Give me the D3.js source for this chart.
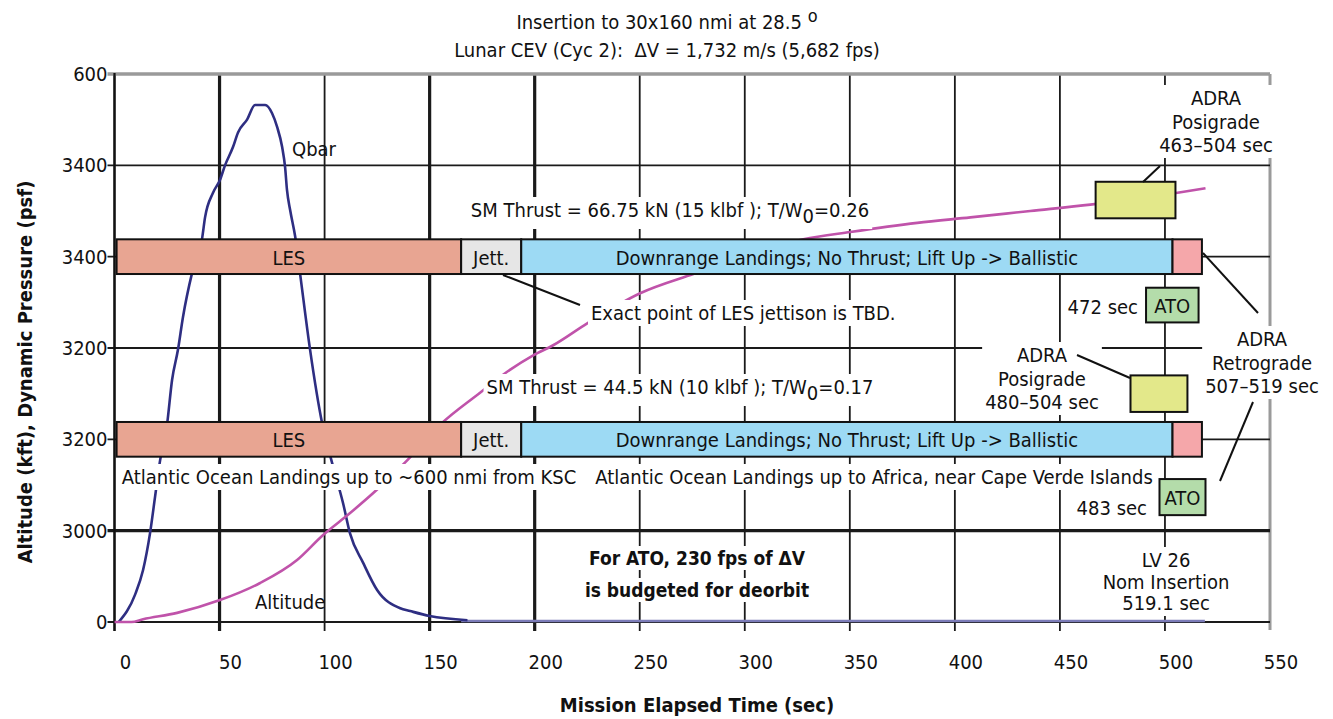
<!DOCTYPE html>
<html>
<head>
<meta charset="utf-8">
<script src="https://cdn.jsdelivr.net/npm/d3@7"></script>
<style>
  html, body { margin: 0; padding: 0; background: #fff; }
  svg { display: block; }
</style>
</head>
<body>
<svg id="chart" width="1333" height="719"></svg>
<script>
// ---------------- DATA ----------------
const xTicks = [0, 50, 100, 150, 200, 250, 300, 350, 400, 450, 500, 550];
const yTickValues = [0, 100, 200, 300, 400, 500, 600];
const yTickLabels = ["0", "3000", "3200", "3200", "3400", "3400", "600"];

// Qbar (time sec, plotted value)
const qbarTime  = [2, 9.8, 13.6, 16.9, 19.3, 21.7, 25, 27.4, 30.2, 32.6, 36.9, 41.7, 43.1, 46.9, 50.2, 52.6, 56.4, 58.8, 63.1, 66.9, 71.7, 75, 77.4, 79.8, 81.2, 82.1, 83.6, 86, 88.3, 93.1, 98.8, 103.6, 108.8, 112.1, 118.3, 125, 136, 140.7, 150, 168];
const qbarValue = [0, 30, 57, 97, 137, 177, 216, 265, 298, 334, 382, 420, 443, 470, 484, 500, 520, 536, 550, 566, 566, 557, 542, 520, 498, 473, 451, 422, 382, 298, 218, 174, 130, 97, 65, 35, 15, 12, 6.6, 2];
const qbarTailTime  = [165, 519];
const qbarTailValue = [1, 1];

// Altitude (time sec, plotted value)
const altTime  = [0, 8, 13.6, 29.8, 50.2, 69.3, 86.9, 99.3, 112, 125, 139.3, 155, 174, 186.9, 199.3, 208.8, 225, 250.2, 275.5, 327.9, 350.2, 382.1, 407.4, 435.9, 464.5, 506, 519.3];
const altValue = [0, 0, 3, 10, 24, 42.7, 67.9, 95.3, 119, 145, 177, 216, 251, 274, 292, 303, 327, 360, 381, 419, 427, 437, 443, 450, 457, 470, 475];

// Phase bars (two rows centred on plotted values)
const barRows = [400, 200];
const phaseLabels = ["LES", "Jett.", "Downrange Landings; No Thrust; Lift Up -> Ballistic", ""];
const phaseStart  = [1, 165, 193.6, 503.6];
const phaseEnd    = [165, 193.6, 503.6, 517.6];

// Boxes: ADRA posigrade (yellow) and ATO (green)
const boxKind  = ["adra", "ato", "adra", "ato"];
const boxLabel = ["", "ATO", "", "ATO"];
const boxT0 = [467, 491, 483.6, 497.4];
const boxT1 = [505, 516, 510.7, 519.3];
const boxV0 = [442, 328, 230, 117];
const boxV1 = [482, 366, 270, 156.5];

// ---------------- STYLE ----------------
const FONT = "'Liberation Sans Narrow','Arial Narrow','DejaVu Sans Condensed',sans-serif";
const phaseColors = ["#e8a592", "#e6e6e6", "#9ddaf4", "#f5a7aa"];
const boxColors = { adra: "#e3e88a", ato: "#b4dcaa" };

const svg = d3.select("#chart");
const x = d3.scaleLinear().domain([0, 550]).range([114.5, 1270]);
const y = d3.scaleLinear().domain([0, 600]).range([622, 74]);

// ---------------- GRID ----------------
const grid = svg.append("g");
const vWidth = { 0: 2, 50: 3.2, 150: 3.2, 200: 3.2, 550: 3 };
grid.selectAll("line.v").data(xTicks).join("line")
  .attr("x1", d => x(d)).attr("x2", d => x(d))
  .attr("y1", y(600)).attr("y2", d => d === 550 ? y(0) + 8 : y(0) + 9)
  .attr("stroke", d => d === 550 ? "#9a9a9a" : "#1a1a1a")
  .attr("stroke-width", d => vWidth[d] || 1.8);
const hWidth = { 100: 3.2, 600: 3.5, 0: 2 };
grid.selectAll("line.h").data(yTickValues).join("line")
  .attr("x1", x(0) - 7).attr("x2", x(550))
  .attr("y1", d => y(d)).attr("y2", d => y(d))
  .attr("stroke", d => d === 600 ? "#9a9a9a" : "#1a1a1a")
  .attr("stroke-width", d => hWidth[d] || 1.8);
grid.append("line").attr("x1", x(0)).attr("x2", x(0)).attr("y1", y(600) - 1).attr("y2", y(0) + 9)
  .attr("stroke", "#111").attr("stroke-width", 2.2);

// tick labels
svg.append("g").selectAll("text").data(yTickValues).join("text")
  .attr("x", x(0) - 7).attr("y", d => y(d))
  .attr("text-anchor", "end").attr("dominant-baseline", "central")
  .attr("font-family", FONT).attr("font-size", 20).attr("fill", "#111")
  .text((d, i) => yTickLabels[i]);
svg.append("g").selectAll("text").data(xTicks).join("text")
  .attr("x", d => x(d) + 11).attr("y", 662)
  .attr("text-anchor", "middle").attr("dominant-baseline", "central")
  .attr("font-family", FONT).attr("font-size", 20).attr("fill", "#111")
  .text(d => d);

// ---------------- CURVES ----------------
const line = d3.line().x(d => x(d[0])).y(d => y(d[1])).curve(d3.curveMonotoneX);
svg.append("path").datum(qbarTailTime.map((t, i) => [t, qbarTailValue[i]]))
  .attr("d", line).attr("fill", "none").attr("stroke", "#7c7cb8").attr("stroke-width", 2.5);
svg.append("path").datum(qbarTime.map((t, i) => [t, qbarValue[i]]))
  .attr("d", line).attr("fill", "none").attr("stroke", "#2e2e82").attr("stroke-width", 2.6);
svg.append("path").datum(altTime.map((t, i) => [t, altValue[i]]))
  .attr("d", line).attr("fill", "none").attr("stroke", "#c053aa").attr("stroke-width", 2.6);

// ---------------- TEXT HELPER ----------------
function label(g, px, py, lines, opt = {}) {
  const size = opt.size || 20;
  const lh = opt.lh || 23.5;
  const grp = g.append("g");
  const t = grp.append("text")
    .attr("font-family", FONT).attr("font-size", size)
    .attr("font-weight", opt.bold ? "bold" : "normal")
    .attr("text-anchor", opt.anchor || "middle").attr("fill", "#111")
    .style("white-space", "pre");
  lines.forEach((ln, i) => {
    const ts = t.append("tspan").attr("x", px).attr("y", py + i * lh).attr("dominant-baseline", "central");
    if (typeof ln === "string") ts.text(ln);
    else ln.forEach(part => {
      const s = ts.append("tspan").text(part.t);
      if (part.sub) s.attr("dy", 6);
      if (part.back) s.attr("dy", -6);
      if (part.sup) s.attr("dy", -7).attr("font-size", size - 2);
    });
  });
  if (opt.bg) {
    const b = t.node().getBBox();
    const p = opt.pad || 3;
    grp.insert("rect", "text").attr("x", b.x - p).attr("y", b.y - 1).attr("width", b.width + 2 * p)
      .attr("height", b.height + 2).attr("fill", "#fff");
  }
  return grp;
}

const ann = svg.append("g");
label(ann, 670, 210, [[{ t: "SM Thrust = 66.75 kN (15 klbf ); T/W" }, { t: "0", sub: true }, { t: "=0.26", back: true }]], { bg: true });
label(ann, 680, 387, [[{ t: "SM Thrust = 44.5 kN (10 klbf ); T/W" }, { t: "0", sub: true }, { t: "=0.17", back: true }]], { bg: true });
label(ann, 591, 313, ["Exact point of LES jettison is TBD."], { anchor: "start", bg: true });
label(ann, 349, 477, ["Atlantic Ocean Landings up to ~600 nmi from KSC"], { bg: true });
label(ann, 874, 477, ["Atlantic Ocean Landings up to Africa, near Cape Verde Islands"], { bg: true });
label(ann, 697, 558, ["For ATO, 230 fps of \u0394V"], { bold: true, bg: true, size: 19 });
label(ann, 697, 590, ["is budgeted for deorbit"], { bold: true, bg: true, size: 19 });
label(ann, 1216, 98, ["ADRA", "Posigrade", "463\u2013504 sec"], { bg: true });
label(ann, 1262, 339, ["ADRA", "Retrograde", "507\u2013519 sec"], { bg: true });
label(ann, 1042, 355, ["ADRA", "Posigrade", "480\u2013504 sec"], { bg: true });
label(ann, 1138, 307, ["472 sec"], { anchor: "end", bg: true });
label(ann, 1147, 508, ["483 sec"], { anchor: "end", bg: true });
label(ann, 1166, 560, ["LV 26", "Nom Insertion", "519.1 sec"], { bg: true, lh: 21.5 });
label(ann, 292, 149, ["Qbar"], { anchor: "start" });
label(ann, 255, 602, ["Altitude"], { anchor: "start" });

// ---------------- BARS ----------------
const barH = 38;
const bars = svg.append("g");
barRows.forEach(rv => {
  const g = bars.append("g");
  phaseStart.forEach((s, i) => {
    g.append("rect")
      .attr("x", x(s)).attr("y", y(rv + barH / 2))
      .attr("width", x(phaseEnd[i]) - x(s)).attr("height", y(rv - barH / 2) - y(rv + barH / 2))
      .attr("fill", phaseColors[i]).attr("stroke", "#111").attr("stroke-width", 2);
    if (phaseLabels[i]) g.append("text")
      .attr("x", (x(s) + x(phaseEnd[i])) / 2).attr("y", y(rv) + 1)
      .attr("text-anchor", "middle").attr("dominant-baseline", "central")
      .attr("font-family", FONT).attr("font-size", 20).attr("fill", "#111")
      .text(phaseLabels[i]);
  });
});

boxKind.forEach((k, i) => {
  bars.append("rect")
    .attr("x", x(boxT0[i])).attr("y", y(boxV1[i]))
    .attr("width", x(boxT1[i]) - x(boxT0[i])).attr("height", y(boxV0[i]) - y(boxV1[i]))
    .attr("fill", boxColors[k]).attr("stroke", "#111").attr("stroke-width", 2);
  if (boxLabel[i]) bars.append("text")
    .attr("x", (x(boxT0[i]) + x(boxT1[i])) / 2).attr("y", (y(boxV0[i]) + y(boxV1[i])) / 2 + 1)
    .attr("text-anchor", "middle").attr("dominant-baseline", "central")
    .attr("font-family", FONT).attr("font-size", 20).attr("fill", "#111").text(boxLabel[i]);
});

// leader lines
const leaders = [[503, 275, 580, 305], [1143, 182, 1160, 166], [1203, 253, 1258, 313], [1253, 402, 1220, 481], [1077, 355, 1130, 378]];
svg.append("g").selectAll("line").data(leaders).join("line")
  .attr("x1", d => d[0]).attr("y1", d => d[1]).attr("x2", d => d[2]).attr("y2", d => d[3])
  .attr("stroke", "#111").attr("stroke-width", 2);

// ---------------- TITLES ----------------
label(svg, 667, 22, [[{ t: "Insertion to 30x160 nmi at 28.5 " }, { t: "o", sup: true }]]);
label(svg, 667, 50, ["Lunar CEV (Cyc 2):\u00a0 \u0394V = 1,732 m/s (5,682 fps)"]);
label(svg, 697, 705, ["Mission Elapsed Time (sec)"], { bold: true });
svg.append("text")
  .attr("transform", "translate(25,372) rotate(-90)")
  .attr("text-anchor", "middle").attr("dominant-baseline", "central")
  .attr("font-family", FONT).attr("font-size", 20).attr("font-weight", "bold").attr("fill", "#111")
  .text("Altitude (kft), Dynamic Pressure (psf)");
</script>
</body>
</html>
